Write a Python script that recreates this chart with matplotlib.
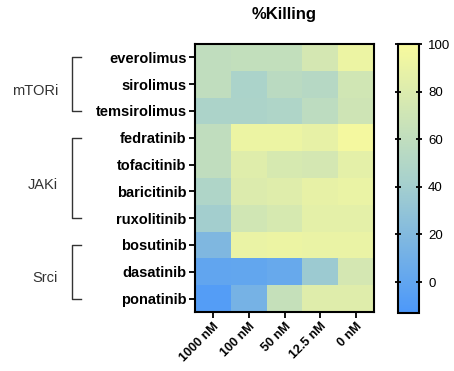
import numpy as np
import matplotlib
matplotlib.use("Agg")
import matplotlib.pyplot as plt
from matplotlib.colors import LinearSegmentedColormap
from matplotlib import transforms
from matplotlib.lines import Line2D

plt.rcParams['font.family'] = ['Liberation Sans', 'DejaVu Sans']

drugs = ["everolimus", "sirolimus", "temsirolimus", "fedratinib", "tofacitinib",
         "baricitinib", "ruxolitinib", "bosutinib", "dasatinib", "ponatinib"]
doses = ["1000 nM", "100 nM", "50 nM", "12.5 nM", "0 nM"]
killing = np.array([
    [60, 62, 62, 74, 92],
    [60, 45, 56, 53, 72],
    [46, 46, 48, 58, 70],
    [60, 92, 92, 88, 97],
    [60, 82, 76, 74, 86],
    [48, 80, 82, 88, 90],
    [40, 72, 76, 86, 86],
    [18, 90, 92, 90, 90],
    [0, 1, 4, 36, 74],
    [-8, 13, 64, 82, 82],
])
groups = ["mTORi", "JAKi", "Srci"]
group_rows = [(0, 2), (3, 6), (7, 9)]
cbar_ticks = [0, 20, 40, 60, 80, 100]
vmin, vmax = -13, 100

cmap = LinearSegmentedColormap.from_list(
    "by", [(0.0, "#4C98FA"), (0.5, "#A9D2CC"), (1.0, "#F8FA9D")])

W, H = 454, 371
fig = plt.figure(figsize=(W / 100, H / 100), dpi=100)

def box(x0, y0, x1, y1):
    return [x0 / W, 1 - y1 / H, (x1 - x0) / W, (y1 - y0) / H]

ax = fig.add_axes(box(195, 44, 374, 312))
im = ax.imshow(killing, cmap=cmap, vmin=vmin, vmax=vmax, aspect="auto",
               interpolation="nearest")
ax.set_xticks(range(len(doses)))
ax.set_xticklabels(doses, rotation=45, ha="right", rotation_mode="anchor",
                   fontsize=9, fontweight="bold")
ax.set_yticks(range(len(drugs)))
ax.set_yticklabels(drugs, fontsize=10.5, fontweight="bold")
ax.tick_params(axis="both", length=4.5, width=1.3, color="black", pad=1.5)
for s in ax.spines.values():
    s.set_linewidth(1.5)
ax.set_title("%Killing", fontsize=12, fontweight="bold", pad=18)

cax = fig.add_axes(box(398, 44, 419, 313))
cb = fig.colorbar(im, cax=cax, ticks=cbar_ticks)
cb.outline.set_linewidth(1.5)
cax.tick_params(axis="y", which="both", direction="inout", length=5, width=1.3,
                left=True, right=True, labelsize=9.5, pad=4)

# group brackets
tr = transforms.blended_transform_factory(fig.transFigure, ax.transData)
xv = 72 / W
xh = 81 / W
for name, (r0, r1) in zip(groups, group_rows):
    fig.add_artist(Line2D([xh, xv, xv, xh], [r0, r0, r1, r1], transform=tr,
                          color="#333333", lw=1.0))
    fig.text(58 / W, (r0 + r1) / 2 + 0.25, name, transform=tr, ha="right",
             va="center", fontsize=10.5, color="#333333")

fig.savefig("out.png", dpi=100)
